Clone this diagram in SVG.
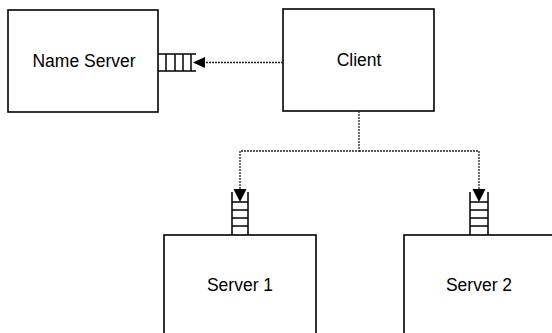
<svg xmlns="http://www.w3.org/2000/svg" width="552" height="333" viewBox="0 0 552 333">
<defs>
<style>
.box{fill:#fff;stroke:#000;stroke-width:1.6}
.q{fill:none;stroke:#000;stroke-width:1.5}
.lbl{font-family:"Liberation Sans",Arial,sans-serif;font-size:17.5px;fill:#000;text-anchor:middle}
.conn{fill:none;stroke:#222;stroke-width:1.3;stroke-dasharray:2,1}
.head{fill:#000}
</style>
</defs>
<rect width="552" height="333" fill="#fff"/>
<g id="name-server">
<rect class="box" x="8" y="10" width="150" height="102"/>
<text class="lbl" x="84" y="67">Name Server</text>
<g id="ns-queue">
<path class="q" d="M158,54 H196 M158,71 H196 M166,54 V71 M175,54 V71 M183,54 V71 M191,54 V71"/>
</g>
</g>
<g id="client">
<rect class="box" x="283" y="9" width="151" height="102"/>
<text class="lbl" x="359" y="66">Client</text>
</g>
<g id="server1">
<rect class="box" x="164" y="235" width="152" height="120"/>
<text class="lbl" x="240" y="291">Server 1</text>
<g id="s1-queue">
<path class="q" d="M232,192 V235 M248,192 V235 M232,202 H248 M232,210 H248 M232,218 H248 M232,226 H248"/>
</g>
</g>
<g id="server2">
<rect class="box" x="404" y="235" width="200" height="120"/>
<text class="lbl" x="479" y="291">Server 2</text>
<g id="s2-queue">
<path class="q" d="M470,192 V235 M488,192 V235 M470,202 H488 M470,210 H488 M470,218 H488 M470,226 H488"/>
</g>
</g>
<g id="connectors">
<path class="conn" d="M283,62.5 H203"/>
<polygon class="head" points="193,62.5 205,57 205,68"/>
<path class="conn" d="M359,111 V151 H240 V190"/>
<polygon class="head" points="240,202 233.5,189 246.5,189"/>
<path class="conn" d="M359,151 H479 V190"/>
<polygon class="head" points="479,202 472.5,189 485.5,189"/>
</g>
</svg>
